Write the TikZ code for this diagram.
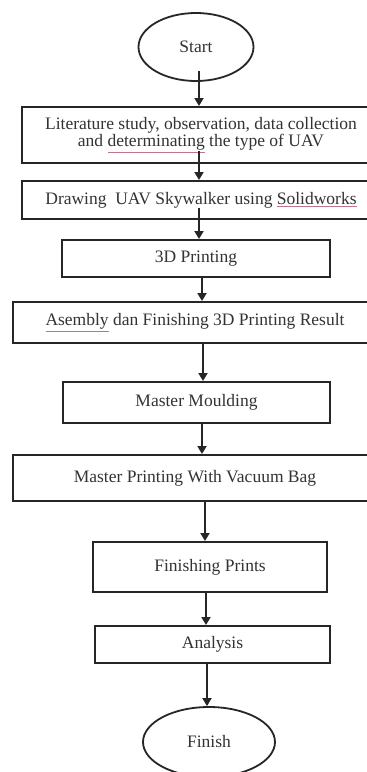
\documentclass[tikz,border=0pt]{standalone}
\usepackage{fontspec}
\setmainfont{Liberation Serif}
\usetikzlibrary{shapes.geometric,arrows.meta}
\definecolor{txt}{gray}{0.2}
\definecolor{spell}{rgb}{0.75,0.45,0.55}
\newcommand{\spellul}[1]{{\color{spell}\underline{\color{txt}#1}}}
\begin{document}
\begin{tikzpicture}[x=1pt,y=1pt,
  every node/.style={font=\fontsize{17.5}{17}\selectfont, text=txt, inner sep=0pt},
  stepbox/.style={draw=black!85, line width=2pt, rectangle, minimum width=#1, align=center},
  term/.style={draw=black!85, line width=1.8pt, ellipse},
  arr/.style={draw=black!85, line width=1.9pt, -{Triangle[length=8pt,width=9pt]}}]
\useasboundingbox (0,0) rectangle (367,-772);
\clip (0,0) rectangle (367,-772);
\fill[white] (0,0) rectangle (367,-772);
\node[term, minimum width=115pt, minimum height=68pt] (start) at (196,-47) {Start};
\node[stepbox=358pt, minimum height=56pt] (b1) at (201,-135) {Literature study, observation, data collection\\ and \spellul{determinating} the type of UAV};
\node[stepbox=358pt, minimum height=38pt] (b2) at (201,-200) {Drawing\ \ UAV Skywalker using \spellul{Solidworks}};
\node[stepbox=268pt, minimum height=37pt] (b3) at (196,-258.5) {3D Printing};
\node[stepbox=364pt, minimum height=41pt] (b4) at (195,-322.5) {\spellul{Asembly} dan Finishing 3D Printing Result};
\node[stepbox=267pt, minimum height=41pt] (b5) at (196.5,-402.5) {Master Moulding};
\node[stepbox=364pt, minimum height=46pt] (b6) at (195,-478) {Master Printing With Vacuum Bag};
\node[stepbox=234pt, minimum height=50pt] (b7) at (210,-567) {Finishing Prints};
\node[stepbox=235pt, minimum height=37pt] (b8) at (212.5,-644.5) {Analysis};
\node[term, minimum width=132pt, minimum height=70pt] (finish) at (209,-742) {Finish};
\draw[arr] ([xshift=3pt,yshift=11pt]start.south) -- ([xshift=-2pt]b1.north);
\draw[arr] ([xshift=-2pt,yshift=13pt]b1.south) -- ([xshift=-2pt]b2.north);
\draw[arr] ([xshift=-2pt,yshift=12pt]b2.south) -- ([xshift=3pt]b3.north);
\draw[arr] ([xshift=6pt]b3.south) -- ([xshift=7pt]b4.north);
\draw[arr] ([xshift=8pt]b4.south) -- ([xshift=6.5pt]b5.north);
\draw[arr] ([xshift=5.5pt]b5.south) -- ([xshift=7pt]b6.north);
\draw[arr] ([xshift=10pt]b6.south) -- ([xshift=-5pt]b7.north);
\draw[arr] ([xshift=-4pt]b7.south) -- ([xshift=-6.5pt]b8.north);
\draw[arr] ([xshift=-5.5pt]b8.south) -- ([xshift=-2pt]finish.north);
\end{tikzpicture}
\end{document}
